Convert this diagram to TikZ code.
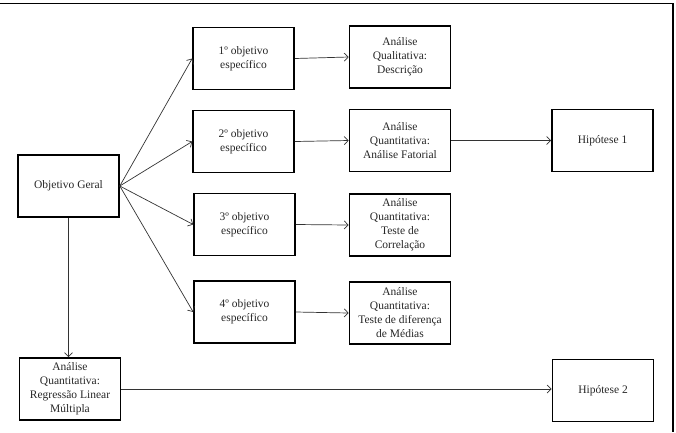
\documentclass[tikz,border=0pt]{standalone}
\usepackage{fontspec}
\setmainfont{Liberation Serif}
\usetikzlibrary{arrows.meta}
\begin{document}
\begin{tikzpicture}[x=1pt,y=-1pt,
  box/.style={draw,line width=1.6pt,minimum width=101pt,minimum height=62pt,inner sep=1pt,
    align=center,font=\fontsize{11.5}{14}\selectfont,text=black!85},
  conn/.style={line width=0.7pt,draw=black!80,-{Straight Barb[length=4pt,width=8pt]}}]
\useasboundingbox (0,0) rectangle (676,432);
\draw[line width=1.8pt] (0,3.5) -- (673,3.5) -- (673,432);
\node[box] (geral) at (68.5,186) {Objetivo Geral};
\node[box] (o1) at (243.5,58.5) {1º objetivo\\específico};
\node[box] (o2) at (243.5,141.5) {2º objetivo\\específico};
\node[box] (o3) at (244.5,224.5) {3º objetivo\\específico};
\node[box] (o4) at (244.5,312) {4º objetivo\\específico};
\node[box] (a1) at (400,57) {Análise\\Qualitativa:\\Descrição};
\node[box] (a2) at (400,140.5) {Análise\\Quantitativa:\\Análise Fatorial};
\node[box] (a3) at (400,225) {Análise\\Quantitativa:\\Teste de\\Correlação};
\node[box] (a4) at (400,313) {Análise\\Quantitativa:\\Teste de diferença\\de Médias};
\node[box] (h1) at (602.5,140.5) {Hipótese 1};
\node[box] (h2) at (603,390.5) {Hipótese 2};
\node[box] (reg) at (70,389) {Análise\\Quantitativa:\\Regressão Linear\\Múltipla};
\foreach \t in {o1,o2,o3,o4} \draw[conn] (geral.east) -- (\t.west);
\draw[conn] (o1.east) -- (a1.west);
\draw[conn] (o2.east) -- (a2.west);
\draw[conn] (o3.east) -- (a3.west);
\draw[conn] (o4.east) -- (a4.west);
\draw[conn] (a2.east) -- (h1.west);
\draw[conn] (geral.south) -- (geral.south |- reg.north);
\draw[conn] (reg.east) -- (reg.east -| h2.west);
\end{tikzpicture}
\end{document}
